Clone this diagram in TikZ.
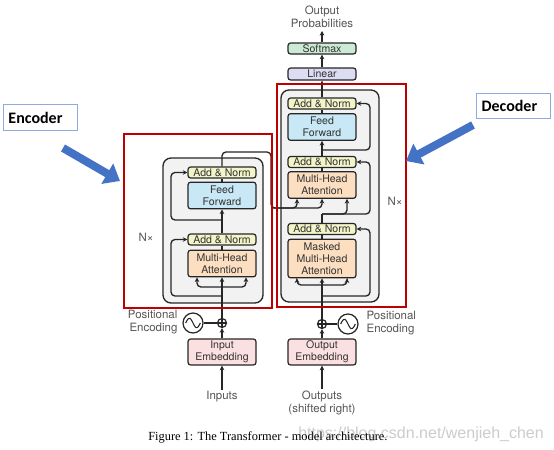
\documentclass[tikz,border=0pt]{standalone}
\usepackage{fontspec}
\newfontfamily\hv{TeX Gyre Heros}
\newfontfamily\tms{Liberation Serif}
\newfontfamily\calib{Carlito}
\newfontfamily\wmf{Liberation Sans}
\usetikzlibrary{arrows.meta,calc}
\definecolor{anfill}{HTML}{F3F5C9}
\definecolor{fffill}{HTML}{C8E8F6}
\definecolor{mhafill}{HTML}{FCDEC0}
\definecolor{linfill}{HTML}{DCDCF2}
\definecolor{smfill}{HTML}{CDEBD4}
\definecolor{embfill}{HTML}{FBE0E1}
\definecolor{boxgray}{HTML}{F2F2F2}
\definecolor{redbox}{HTML}{C00000}
\definecolor{ablue}{HTML}{4472C4}
\definecolor{lblue}{HTML}{8FAADC}
\definecolor{txtgray}{HTML}{555555}
\tikzset{
  blk/.style={draw=black!85, line width=0.9pt, rounded corners=2pt, minimum width=51pt,
    inner sep=0pt, align=center, font=\hv\fontsize{7.9}{8.9}\selectfont, text=black!80},
  an/.style={blk, fill=anfill, minimum height=8.25pt},
  ffb/.style={blk, fill=fffill, minimum height=20pt},
  mha/.style={blk, fill=mhafill, minimum height=20pt},
  emb/.style={blk, fill=embfill, minimum height=19.5pt},
  lbl/.style={font=\hv\fontsize{8.6}{10.2}\selectfont, text=txtgray, align=center, inner sep=1pt},
  plus/.style={circle, draw=black!85, line width=0.9pt, minimum size=6.75pt, inner sep=0pt},
  sine/.style={circle, draw=black!85, line width=0.9pt, minimum size=15pt, inner sep=0pt},
  conn/.style={draw=black!85, line width=1pt, rounded corners=3pt},
  arr/.style={conn, -{Stealth[length=3.5pt,width=3.5pt]}},
  graybox/.style={draw=black!85, fill=boxgray, line width=1pt, rounded corners=6pt},
  redframe/.style={draw=redbox, line width=1.6pt},
  tag/.style={draw=lblue, fill=white, line width=0.6pt, font=\calib\bfseries\fontsize{12}{14}\selectfont,
    inner sep=3.5pt, text width=48pt, align=left, minimum height=19pt},
  bluearr/.style={draw=ablue, line width=6pt, -{Triangle[length=11pt,width=17pt]}}
}
\begin{document}
\begin{tikzpicture}[x=0.75pt,y=-0.75pt]
\useasboundingbox (0,0) rectangle (554,450);
\fill[white] (0,0) rectangle (554,450);

% gray stacks
\draw[graybox] (163,158) rectangle (263,303);
\draw[graybox] (281,90) rectangle (379,302);

% ---------- Encoder ----------
\node[an] (eAN2) at (222,172.5) {Add \& Norm};
\node[ffb] (eFF) at (222,195.5) {Feed\\Forward};
\node[an] (eAN1) at (222,239.5) {Add \& Norm};
\node[mha] (eMHA) at (222,263.5) {Multi-Head\\Attention};
\node[emb] (eEmb) at (222,352) {Input\\Embedding};
\node[lbl] (inputs) at (222,397) {Inputs};
\node[plus] (ePlus) at (222,323) {};
\draw[line width=0.8pt, black!85] (ePlus.north) -- (ePlus.south) (ePlus.west) -- (ePlus.east);
\node[sine] (eSin) at (193,323) {};
\draw[line width=0.8pt, black!85, shift={(eSin.center)}] plot[domain=-1:1, samples=40, smooth] (\x*5.5pt, {-sin(\x*180)*3.5pt});
\node[lbl, anchor=east, align=right] (ePE) at (179,322) {Positional\\Encoding};
\node[lbl] (eN) at (146,237) {N×};

\coordinate (eRx) at (171,0);
\coordinate (eB1) at (222,287);
\coordinate (eL) at (197,0);
\coordinate (eRa) at (246,0);
\coordinate (eR1) at (222,296);
\coordinate (eR2) at (222,220);

\draw[arr] (inputs) -- (eEmb);
\draw[arr] (eEmb) -- (ePlus);
\draw[conn] (eSin) -- (ePlus);
\draw[arr] (ePlus) -- (eMHA);
\draw[arr] (eB1) -| (eMHA.south -| eL);
\draw[arr] (eB1) -| (eMHA.south -| eRa);
\draw[arr] (eR1) -| (eRx |- eAN1.west) -- (eAN1.west);
\draw[conn] (eMHA) -- (eAN1);
\draw[arr] (eAN1) -- (eFF);
\draw[arr] (eR2) -| (eRx |- eAN2.west) -- (eAN2.west);
\draw[conn] (eFF) -- (eAN2);

% ---------- Decoder ----------
\node[lbl] (oprob) at (322,17) {Output\\Probabilities};
\node[blk, fill=smfill, minimum height=8.25pt] (dSoft) at (322,48.5) {Softmax};
\node[blk, fill=linfill, minimum height=9pt] (dLin) at (322,74) {Linear};
\node[an] (dAN3) at (322,103.5) {Add \& Norm};
\node[ffb] (dFF) at (322,127) {Feed\\Forward};
\node[an] (dAN2) at (322,162) {Add \& Norm};
\node[mha] (dMHA) at (322,185) {Multi-Head\\Attention};
\node[an] (dAN1) at (322,229) {Add \& Norm};
\node[mha, minimum height=29pt] (dMMHA) at (322,258.5) {Masked\\Multi-Head\\Attention};
\node[emb] (dEmb) at (322,352) {Output\\Embedding};
\node[lbl] (outputs) at (322,403) {Outputs\\(shifted right)};
\node[plus] (dPlus) at (322,324) {};
\draw[line width=0.8pt, black!85] (dPlus.north) -- (dPlus.south) (dPlus.west) -- (dPlus.east);
\node[sine] (dSin) at (348,324) {};
\draw[line width=0.8pt, black!85, shift={(dSin.center)}] plot[domain=-1:1, samples=40, smooth] (\x*5.5pt, {-sin(\x*180)*3.5pt});
\node[lbl, anchor=west, align=left] (dPE) at (365,323) {Positional\\Encoding};
\node[lbl] (dN) at (395,201) {N×};

\coordinate (dRx) at (370,0);
\coordinate (dL) at (297,0);
\coordinate (dRa) at (347,0);
\coordinate (dB1) at (322,285);
\coordinate (dR1) at (322,296);
\coordinate (dB2) at (322,214);
\coordinate (dR3) at (322,150);
\coordinate (oTop) at (322,31);

\draw[arr] (outputs) -- (dEmb);
\draw[arr] (dEmb) -- (dPlus);
\draw[conn] (dSin) -- (dPlus);
\draw[arr] (dPlus) -- (dMMHA);
\draw[arr] (dB1) -| (dMMHA.south -| dL);
\draw[arr] (dB1) -| (dMMHA.south -| dRa);
\draw[arr] (dR1) -| (dRx |- dAN1.east) -- (dAN1.east);
\draw[conn] (dMMHA) -- (dAN1);
\draw[conn] (dAN1.north) -- (dB2);
\draw[arr] (dB2) -| (dMHA.south -| dRa);
\draw[arr] (dB2) -| (dRx |- dAN2.east) -- (dAN2.east);
\draw[conn] (dMHA) -- (dAN2);
\draw[arr] (dAN2) -- (dFF);
\draw[arr] (dR3) -| (dRx |- dAN3.east) -- (dAN3.east);
\draw[conn] (dFF) -- (dAN3);
\draw[arr] (dAN3) -- (dLin);
\draw[arr] (dLin) -- (dSoft);
\draw[arr] (dSoft) -- (oTop);

% encoder -> decoder
\coordinate (eo1) at (222,152);
\coordinate (eo2) at (271,208);
\draw[arr] (eAN2.north) -- (eo1) -- (eo1 -| eo2) -- (eo2) -| (dMHA.south -| dL);
\draw[arr] (eo2) -| (dMHA.south);

% red frames
\draw[redframe] (124,134) rectangle (272,308);
\draw[redframe] (277,84) rectangle (406,307);

% tags and blue arrows
\node[tag] (encL) at (40.5,117.5) {Encoder};
\node[tag] (decL) at (513.5,106) {Decoder};
\coordinate (ea1) at (63,148);
\coordinate (ea2) at (120,181);
\coordinate (da1) at (473,125);
\coordinate (da2) at (406,161);
\draw[bluearr] (ea1) -- (ea2);
\draw[bluearr] (da1) -- (da2);

% caption and watermark
\node[anchor=west, text=black!20, font=\wmf\fontsize{12}{14}\selectfont, inner sep=0pt] (wm) at (298,434) {https://blog.csdn.net/wenjieh\_chen};
\node[anchor=west, font=\tms\fontsize{9.3}{10.5}\selectfont, inner sep=0pt] (cap) at (148,437) {Figure 1: The Transformer - model architecture.};
\end{tikzpicture}
\end{document}
